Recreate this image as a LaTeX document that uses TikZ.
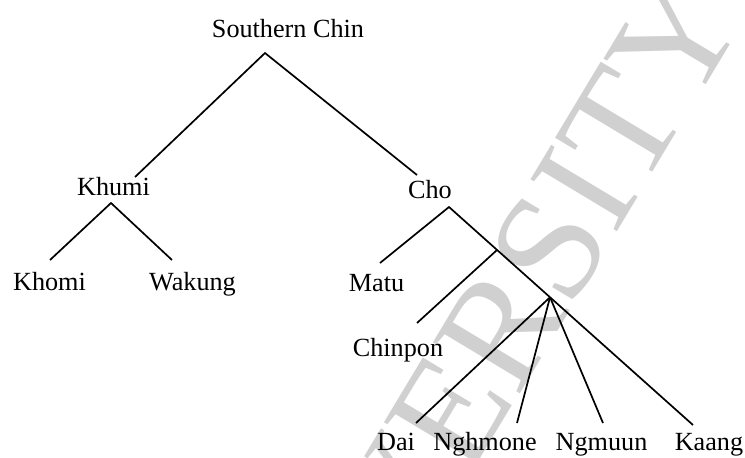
\documentclass[tikz,border=0pt]{standalone}
\usepackage{fontspec}
\usetikzlibrary{calc}
\setmainfont{Liberation Serif}
\definecolor{wmgray}{HTML}{D0D0D0}
\tikzset{
  lang/.style={anchor=base, inner sep=0pt, font=\fontsize{13.1pt}{15pt}\selectfont},
  branch/.style={line width=0.85pt, line cap=butt},
}
\begin{document}
\begin{tikzpicture}[x=0.5pt, y=-0.5pt]
\useasboundingbox (0,0) rectangle (745,457);
% background watermark
\begin{scope}
  \clip (0,0) rectangle (745,457);
  \node[rotate=59, inner sep=0pt, text=wmgray, font=\fontsize{77pt}{80pt}\selectfont] (wm) at (466,387) {UNIVERSITY};
\end{scope}

% labels
\node[lang] (sc) at (288,37) {Southern Chin};
\node[lang] (khumi) at (113.5,195.5) {Khumi};
\node[lang] (cho) at (430,198) {Cho};
\node[lang] (khomi) at (49.5,290.5) {Khomi};
\node[lang] (wakung) at (192.5,290.5) {Wakung};
\node[lang] (matu) at (376.5,291.5) {Matu};
\node[lang] (chinpon) at (398,356) {Chinpon};
\node[lang] (dai) at (396,450) {Dai};
\node[lang] (nghmone) at (485,450) {Nghmone};
\node[lang] (ngmuun) at (601.5,450) {Ngmuun};
\node[lang] (kaang) at (709,450) {Kaang};

% branch points and tips
\coordinate (sc-foot) at (265,53);
\coordinate (khumi-top) at (135,177);
\coordinate (cho-top) at (417,175);
\coordinate (khumi-foot) at (111,203);
\coordinate (khomi-top) at (50,260);
\coordinate (wakung-top) at (172,260);
\coordinate (cho-foot) at (449,207);
\coordinate (matu-top) at (380,263);
\coordinate (kaang-top) at (693,425);
\coordinate (j1) at ($(cho-foot)!0.197!(kaang-top)$);
\coordinate (j2) at ($(cho-foot)!0.414!(kaang-top)$);
\coordinate (chinpon-top) at (417,323);
\coordinate (dai-top) at (416,423);
\coordinate (nghmone-top) at (517,423);
\coordinate (ngmuun-top) at (603,423);

% tree
\draw[branch] (khumi-top) -- (sc-foot) -- (cho-top);
\draw[branch] (khomi-top) -- (khumi-foot) -- (wakung-top);
\draw[branch] (matu-top) -- (cho-foot) -- (kaang-top);
\draw[branch] (j1) -- (chinpon-top);
\draw[branch] (j2) -- (dai-top);
\draw[branch] (j2) -- (nghmone-top);
\draw[branch] (j2) -- (ngmuun-top);
\end{tikzpicture}
\end{document}
